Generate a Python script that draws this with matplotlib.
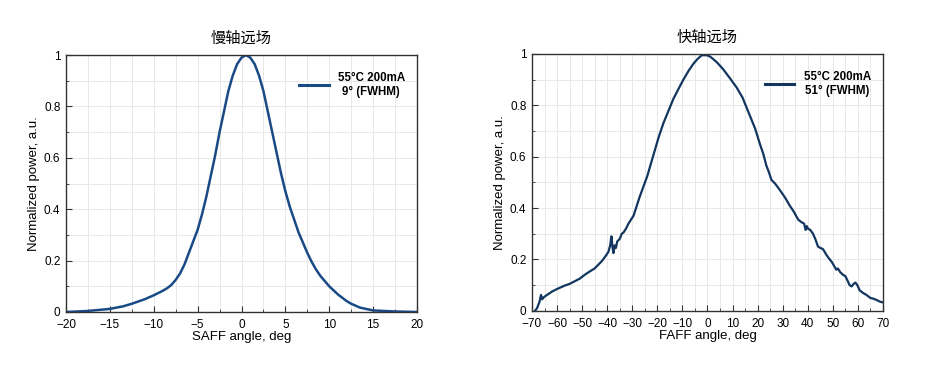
import matplotlib
matplotlib.use("Agg")
import matplotlib.pyplot as plt
from matplotlib.ticker import MultipleLocator, FuncFormatter

plt.rcParams['font.family'] = ['Liberation Sans', 'Noto Sans CJK SC', 'DejaVu Sans']

# slow axis far field
saff_angle = [-20, -17.5, -15, -13.5, -12.5, -11, -10, -9, -8.5, -8, -7.5, -7, -6.5, -6, -5.5, -5,
              -4.5, -4, -3.5, -3, -2.5, -2, -1.5, -1, -0.5, 0, 0.5, 1, 1.5, 2, 2.5, 3, 3.5, 4,
              4.5, 5, 5.5, 6, 6.5, 7, 7.5, 8, 8.5, 9, 10, 11, 12, 12.5, 13.5, 15, 17.5, 20]
saff_power = [0.0, 0.004, 0.012, 0.022, 0.032, 0.05, 0.065, 0.082, 0.092, 0.105, 0.125, 0.15,
              0.185, 0.23, 0.275, 0.32, 0.38, 0.45, 0.53, 0.61, 0.7, 0.78, 0.86, 0.92, 0.965,
              0.99, 1.0, 0.99, 0.965, 0.92, 0.86, 0.78, 0.7, 0.62, 0.54, 0.47, 0.41, 0.36, 0.31,
              0.27, 0.23, 0.195, 0.165, 0.14, 0.1, 0.068, 0.042, 0.032, 0.017, 0.006, 0.002, 0.0]

# fast axis far field
faff_angle = [-68.8, -68, -67, -66.4, -65.9, -65.6, -65, -64, -62, -60, -57, -55, -53, -51, -49,
              -47, -45, -43.5, -42, -40.5, -39.5, -38.8, -38.3, -37.9, -37.5, -37, -36.5, -36,
              -35, -34.2, -33.5, -32.5, -31.5, -30.5, -29.5, -28.5, -27, -25.5, -24, -22.5, -21,
              -19.5, -17.6, -15.5, -13.6, -11.5, -9.6, -7.5, -5.6, -4, -2.3, -0.3, 1, 2.3, 4,
              6.3, 9, 11.6, 14, 16.9, 19, 20.9, 22.3, 23.5, 24.5, 25.5, 27, 28.9, 31, 32.8, 34.5,
              36.2, 37.5, 38.5, 39.2, 39.6, 40.1, 41, 42.1, 43, 44.1, 45, 46.1, 47, 48, 48.8, 49.6,
              50.5, 51.4, 52, 53, 54.1, 55, 56, 56.7, 57.5, 58.3, 59, 59.8, 60.7, 62, 63.4, 65,
              66, 67.5, 69, 70]
faff_power = [0.0, 0.01, 0.035, 0.062, 0.045, 0.05, 0.055, 0.062, 0.075, 0.085, 0.098, 0.105,
              0.115, 0.125, 0.14, 0.153, 0.165, 0.18, 0.195, 0.215, 0.23, 0.255, 0.29, 0.25,
              0.225, 0.255, 0.245, 0.27, 0.28, 0.3, 0.305, 0.32, 0.34, 0.355, 0.37, 0.4, 0.445,
              0.485, 0.525, 0.575, 0.625, 0.675, 0.73, 0.78, 0.825, 0.865, 0.9, 0.935, 0.962, 0.98,
              0.995, 0.995, 0.99, 0.98, 0.965, 0.94, 0.905, 0.87, 0.83, 0.76, 0.71, 0.65, 0.61,
              0.565, 0.54, 0.51, 0.495, 0.47, 0.44, 0.41, 0.385, 0.355, 0.345, 0.34, 0.315, 0.33,
              0.32, 0.315, 0.3, 0.28, 0.25, 0.245, 0.24, 0.225, 0.21, 0.2, 0.19, 0.175, 0.16,
              0.165, 0.15, 0.14, 0.135, 0.115, 0.1, 0.095, 0.105, 0.11, 0.1, 0.08, 0.07, 0.062,
              0.05, 0.048, 0.042, 0.035, 0.033]

saff_ticks = list(range(-20, 21, 5))
faff_ticks = list(range(-70, 71, 10))

fig = plt.figure(figsize=(9.31, 3.8), dpi=100)
ax1 = fig.add_axes([0.0709, 0.179, 0.377, 0.676])
ax2 = fig.add_axes([0.5714, 0.182, 0.377, 0.676])

num_fmt = FuncFormatter(lambda v, p: ('%g' % v).replace('-', '\u2212'))


def style(ax, xticks, minor, title, xlabel):
	ax.set_xlim(xticks[0], xticks[-1])
	ax.set_ylim(0, 1)
	ax.set_xticks(xticks)
	ax.xaxis.set_minor_locator(MultipleLocator(minor))
	ax.yaxis.set_major_locator(MultipleLocator(0.2))
	ax.yaxis.set_minor_locator(MultipleLocator(0.1))
	ax.yaxis.set_major_formatter(num_fmt)
	ax.xaxis.set_major_formatter(num_fmt)
	ax.grid(which='both', color='#e8e8e8', linewidth=0.7)
	ax.set_axisbelow(True)
	ax.tick_params(which='both', direction='in', labelsize=8.5, color='#333333',
		top=False, right=False)
	ax.tick_params(axis='y', pad=4)
	ax.tick_params(axis='x', pad=5)
	ax.tick_params(which='major', length=4)
	ax.tick_params(which='minor', length=2.5)
	for s in ax.spines.values():
		s.set_color('#333333')
		s.set_linewidth(1.0)
	ax.set_title(title, fontsize=11, family=['Noto Sans CJK SC'], pad=9)
	ax.set_xlabel(xlabel, fontsize=9.5, labelpad=0)
	ax.set_ylabel('Normalized power, a.u.', fontsize=9.5, labelpad=3)


ax1.plot(saff_angle, saff_power, color='#1a4a86', linewidth=1.8, label='55°C 200mA\n9° (FWHM)')
style(ax1, saff_ticks, 2.5, '慢轴远场', 'SAFF angle, deg')

ax2.plot(faff_angle, faff_power, color='#12365f', linewidth=1.6, label='55°C 200mA\n51° (FWHM)')
style(ax2, faff_ticks, 5, '快轴远场', 'FAFF angle, deg')

for ax in (ax1, ax2):
	leg = ax.legend(loc='upper right', frameon=False, handlelength=2.6, handletextpad=0.8,
		prop={'weight': 'bold', 'size': 8.3}, bbox_to_anchor=(0.995, 0.975))
	for t in leg.get_texts():
		t.set_multialignment('center')
	for h in leg.get_lines():
		h.set_linewidth(2.2)

fig.savefig('out.png', dpi=100)
